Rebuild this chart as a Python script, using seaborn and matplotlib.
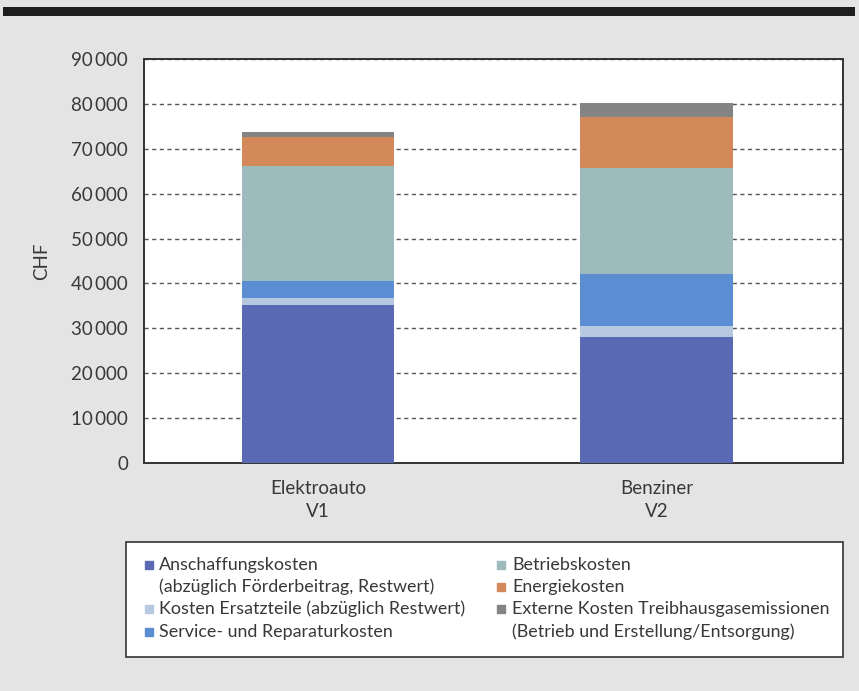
import numpy as np
import pandas as pd
import matplotlib
matplotlib.use("Agg")
import matplotlib.pyplot as plt
import seaborn as sns
from matplotlib.patches import Rectangle
from matplotlib.lines import Line2D

# Daten (CHF)
fahrzeuge = ["Elektroauto\nV1", "Benziner\nV2"]
kategorien = [
    "Anschaffungskosten\n(abzüglich Förderbeitrag, Restwert)",
    "Kosten Ersatzteile (abzüglich Restwert)",
    "Service- und Reparaturkosten",
    "Betriebskosten",
    "Energiekosten",
    "Externe Kosten Treibhausgasemissionen\n(Betrieb und Erstellung/Entsorgung)",
]
anschaffung = [35200, 28100]
ersatzteile = [1500, 2400]
service = [3800, 11700]
betrieb = [25600, 23600]
energie = [6600, 11200]
extern = [1100, 3100]
farben = ["#5a69b4", "#b6c9e0", "#5b8dd3", "#9dbbbd", "#d4895a", "#848484"]

sns.set_style("white")
plt.rcParams['font.family'] = ['Lato', 'DejaVu Sans']
textfarbe = "#383838"

werte = np.array([anschaffung, ersatzteile, service, betrieb, energie, extern])
kumuliert = werte.cumsum(axis=0)

fig = plt.figure(figsize=(8.59, 6.91), dpi=100)
fig.patch.set_facecolor("#e4e4e4")
ax = fig.add_axes([144/859, 1 - 463/691, (843 - 144)/859, (463 - 59)/691])

# gestapelte Balken: von oben nach unten übereinander zeichnen
for i in range(len(kategorien) - 1, -1, -1):
    df = pd.DataFrame({"fahrzeug": fahrzeuge, "wert": kumuliert[i]})
    sns.barplot(data=df, x="fahrzeug", y="wert", color=farben[i], saturation=1,
                width=0.45, linewidth=0, ax=ax, zorder=3)

ax.set_xlim(-0.514, 1.551)
ax.set_ylim(0, 90000)
ax.set_yticks(range(0, 90001, 10000))
ax.set_yticklabels([f"{v:,}".replace(",", "\u2009") for v in range(0, 90001, 10000)])
ax.yaxis.grid(True, linestyle=(0, (3, 2.5)), color="#555555", linewidth=1, zorder=0)
ax.set_axisbelow(True)
ax.tick_params(length=0, labelsize=13.5, labelcolor=textfarbe)
ax.tick_params(axis="y", pad=11.5)
ax.tick_params(axis="x", pad=12)
for t in ax.get_xticklabels():
    t.set_linespacing(1.45)
ax.set_xlabel("")
ax.set_ylabel("CHF", fontsize=13.5, color=textfarbe, labelpad=15)
for s in ax.spines.values():
    s.set_color("#333333")
    s.set_linewidth(1.4)
    s.set_visible(True)

# schwarzer Balken oben
fig.add_artist(Rectangle((3/859, 1 - 16/691), 852/859, 9/691, transform=fig.transFigure,
                         facecolor="#1e1e1e", edgecolor="none"))

# Legende
fig.add_artist(Rectangle((126/859, 1 - 657/691), (843 - 126)/859, (657 - 542)/691,
                         transform=fig.transFigure, facecolor="white",
                         edgecolor="#333333", linewidth=1.2))
zeilen_y = [565, 587, 609, 632]
spalten = [(149, 159), (501, 512)]
pos = [(0, 0), (0, 2), (0, 3), (1, 0), (1, 1), (1, 2)]
for (sp, z), label, f in zip(pos, kategorien, farben):
    mx, tx = spalten[sp]
    fig.add_artist(Line2D([mx/859], [1 - zeilen_y[z]/691], marker="s", markersize=5.5,
                          color=f, linestyle="none", transform=fig.transFigure))
    for k, teil in enumerate(label.split("\n")):
        fig.text(tx/859, 1 - zeilen_y[z + k]/691, teil, fontsize=12.9, color=textfarbe,
                 va="center", ha="left")

plt.savefig("out.png", dpi=100, facecolor=fig.get_facecolor())
